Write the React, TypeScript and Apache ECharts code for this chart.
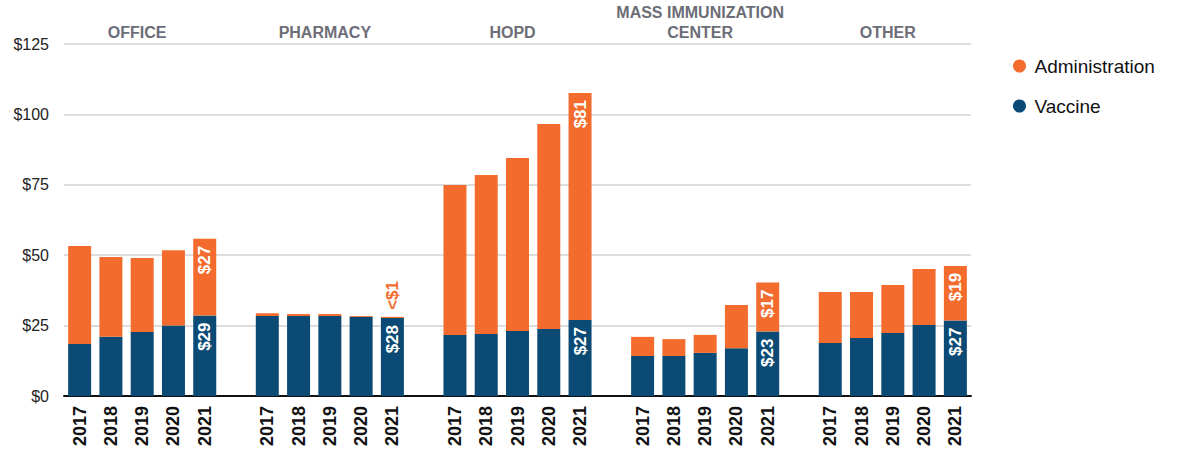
import React, { useEffect, useRef } from "react";
import * as echarts from "echarts";

const groups = ["OFFICE", "PHARMACY", "HOPD", "MASS IMMUNIZATION\nCENTER", "OTHER"];
const years = ["2017", "2018", "2019", "2020", "2021"];
const yTicks = [0, 25, 50, 75, 100, 125];

const vaccineOffice = [18.5, 21.0, 22.7, 25.0, 28.6];
const adminOffice = [34.8, 28.4, 26.3, 26.8, 27.2];
const vaccinePharmacy = [28.4, 28.4, 28.4, 28.1, 27.7];
const adminPharmacy = [1.0, 0.7, 0.7, 0.3, 0.4];
const vaccineHopd = [21.7, 22.0, 23.1, 23.8, 27.0];
const adminHopd = [53.2, 56.5, 61.4, 72.8, 80.6];
const vaccineMass = [14.2, 14.2, 15.3, 17.0, 22.9];
const adminMass = [6.8, 6.0, 6.4, 15.3, 17.4];
const vaccineOther = [18.8, 20.6, 22.4, 25.2, 26.8];
const adminOther = [18.1, 16.3, 17.0, 19.9, 19.4];

const vaccineByGroup = [vaccineOffice, vaccinePharmacy, vaccineHopd, vaccineMass, vaccineOther];
const adminByGroup = [adminOffice, adminPharmacy, adminHopd, adminMass, adminOther];

const ORANGE = "#F36C2E";
const NAVY = "#0A4A74";
const FONT = "'Liberation Sans', Arial, sans-serif";

export default function App() {
  const ref = useRef<HTMLDivElement>(null);

  useEffect(() => {
    if (!ref.current) return;
    const chart = echarts.init(ref.current, null, { renderer: "svg" });

    const categories: string[] = [];
    const topLabels: string[] = [];
    const vaccineData: any[] = [];
    const adminData: any[] = [];

    const insideLabel = {
      show: true,
      position: "insideTop",
      rotate: 90,
      align: "right",
      verticalAlign: "middle",
      distance: 7,
      color: "#ffffff",
      fontWeight: "bold",
      fontSize: 17,
      fontFamily: FONT,
    };
    const outsideLabel = {
      show: true,
      position: "top",
      rotate: 90,
      align: "left",
      verticalAlign: "middle",
      distance: 7,
      color: ORANGE,
      fontWeight: "bold",
      fontSize: 17,
      fontFamily: FONT,
    };

    groups.forEach((g, gi) => {
      years.forEach((y, yi) => {
        categories.push(y);
        topLabels.push(yi === 2 ? g : "");
        const v = vaccineByGroup[gi][yi];
        const a = adminByGroup[gi][yi];
        const last = yi === years.length - 1;
        vaccineData.push(last ? { value: v, label: insideLabel } : v);
        adminData.push(last ? { value: a, label: a < 1 ? outsideLabel : insideLabel } : a);
      });
      if (gi < groups.length - 1) {
        categories.push("");
        topLabels.push("");
        vaccineData.push("-");
        adminData.push("-");
      }
    });

    const fmt = (p: any) => {
      const val = typeof p.value === "object" ? p.value.value : p.value;
      return val < 1 ? "<$1" : "$" + Math.round(val);
    };

    chart.setOption({
      animation: false,
      textStyle: { fontFamily: FONT },
      grid: { left: 64, right: 209, top: 44, bottom: 59, containLabel: false },
      legend: {
        orient: "vertical",
        left: 1008,
        top: 51,
        icon: "circle",
        itemWidth: 20,
        itemHeight: 13,
        itemGap: 20,
        data: ["Administration", "Vaccine"],
        textStyle: { fontSize: 19, color: "#111", lineHeight: 20, fontFamily: FONT },
      },
      xAxis: [
        {
          type: "category",
          data: categories,
          position: "bottom",
          axisLine: { show: true, lineStyle: { color: "#111", width: 2 } },
          axisTick: { show: false },
          axisLabel: {
            interval: 0,
            rotate: 90,
            margin: 10,
            color: "#111",
            fontWeight: "bold",
            fontSize: 18,
            fontFamily: FONT,
          },
        },
        {
          type: "category",
          data: topLabels,
          position: "top",
          axisLine: { show: false },
          axisTick: { show: false },
          axisLabel: {
            interval: 0,
            margin: 2,
            color: "#6d6d77",
            fontWeight: "bold",
            fontSize: 16,
            lineHeight: 20,
            fontFamily: FONT,
            padding: [0, 10, 0, 0],
          },
        },
      ],
      yAxis: {
        type: "value",
        min: yTicks[0],
        max: yTicks[yTicks.length - 1],
        interval: 25,
        axisLine: { show: false },
        axisTick: { show: false },
        splitLine: { lineStyle: { color: "#d2d2d2", width: 1.5 } },
        axisLabel: {
          formatter: (v: number) => "$" + v,
          color: "#222",
          fontSize: 16,
          margin: 15,
          fontFamily: FONT,
        },
      },
      series: [
        {
          name: "Vaccine",
          type: "bar",
          stack: "total",
          barWidth: 23,
          itemStyle: { color: NAVY },
          label: { formatter: fmt },
          data: vaccineData,
        },
        {
          name: "Administration",
          type: "bar",
          stack: "total",
          barWidth: 23,
          itemStyle: { color: ORANGE },
          label: { formatter: fmt },
          data: adminData,
        },
      ],
    });

    return () => chart.dispose();
  }, []);

  return (
    <div
      ref={ref}
      style={{ position: "fixed", left: 0, top: 0, width: 1180, height: 455, background: "#fff" }}
    />
  );
}
